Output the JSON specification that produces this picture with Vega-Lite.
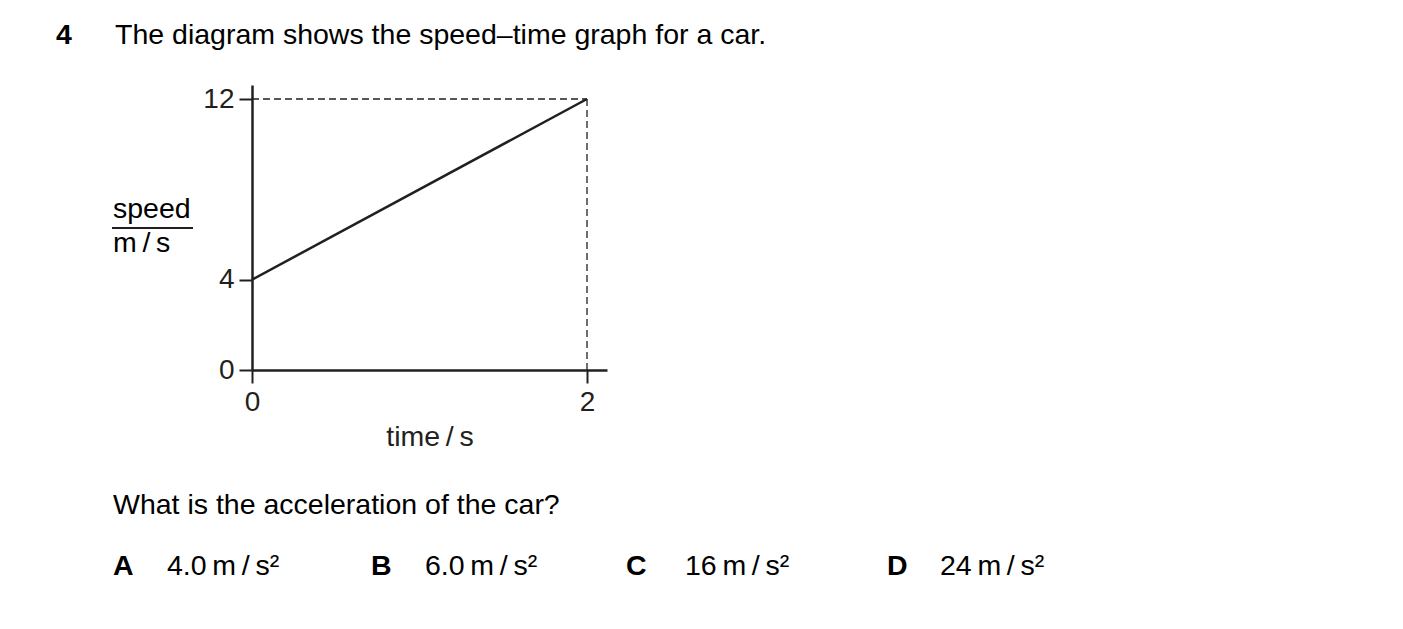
{
  "$schema": "https://vega.github.io/schema/vega-lite/v6.json",
  "autosize": {"type": "none"},
  "padding": {"left": 252, "top": 85, "right": 796, "bottom": 259},
  "width": 355,
  "height": 285,
  "background": "white",
  "config": {
    "view": {"stroke": null},
    "font": "Liberation Sans",
    "axis": {
      "domainColor": "#231f20",
      "domainWidth": 2.5,
      "tickColor": "#231f20",
      "tickWidth": 2,
      "tickSize": 13,
      "labelFont": "Liberation Sans",
      "labelFontSize": 28,
      "labelColor": "#231f20",
      "labelPadding": 5,
      "labelFlush": false,
      "grid": false,
      "titleFont": "Liberation Sans",
      "titleFontSize": 28.5,
      "titleFontWeight": "normal",
      "titleColor": "#231f20"
    }
  },
  "datasets": {
    "graph": [{"x": 0, "y": 4}, {"x": 2, "y": 12}],
    "guides": [
      {"x": 0, "y": 12, "x2": 2, "y2": 12},
      {"x": 2, "y": 0, "x2": 2, "y2": 12}
    ],
    "fraction": [{"x": -0.8358, "y": 6.2879, "x2": -0.3522}],
    "plain": [
      {"label": "The diagram shows the speed–time graph for a car.", "x": -0.8179, "y": 14.436},
      {"label": "speed", "x": -0.8299, "y": 6.7307},
      {"label": "m\u2009/\u2009s", "x": -0.8299, "y": 5.2252},
      {"label": "What is the acceleration of the car?", "x": -0.8299, "y": -6.3765},
      {"label": "4.0\u2009m\u2009/\u2009s²", "x": -0.5075, "y": -9.0776},
      {"label": "6.0\u2009m\u2009/\u2009s²", "x": 1.0328, "y": -9.0776},
      {"label": "16\u2009m\u2009/\u2009s²", "x": 2.5851, "y": -9.0776},
      {"label": "24\u2009m\u2009/\u2009s²", "x": 4.1075, "y": -9.0776}
    ],
    "bold": [
      {"label": "4", "x": -1.1701, "y": 14.436},
      {"label": "A", "x": -0.8299, "y": -9.0776},
      {"label": "B", "x": 0.7104, "y": -9.0776},
      {"label": "C", "x": 2.2328, "y": -9.0776},
      {"label": "D", "x": 3.791, "y": -9.0776}
    ]
  },
  "layer": [
    {
      "data": {"name": "graph"},
      "mark": {"type": "line", "color": "#231f20", "strokeWidth": 2.5},
      "encoding": {
        "x": {
          "field": "x", "type": "quantitative",
          "scale": {"domain": [0, 2.1194], "nice": false, "zero": false},
          "axis": {"values": [0, 2], "title": "time\u2009/\u2009s", "titlePadding": 6, "format": "d"}
        },
        "y": {
          "field": "y", "type": "quantitative",
          "scale": {"domain": [0, 12.62], "nice": false, "zero": false},
          "axis": {"values": [0, 4, 12], "title": null, "format": "d"}
        }
      }
    },
    {
      "data": {"name": "guides"},
      "mark": {"type": "rule", "color": "#231f20", "strokeWidth": 1.3, "strokeDash": [7, 4]},
      "encoding": {
        "x": {"field": "x", "type": "quantitative"},
        "y": {"field": "y", "type": "quantitative"},
        "x2": {"field": "x2"},
        "y2": {"field": "y2"}
      }
    },
    {
      "data": {"name": "fraction"},
      "mark": {"type": "rule", "color": "#231f20", "strokeWidth": 2},
      "encoding": {
        "x": {"field": "x", "type": "quantitative"},
        "x2": {"field": "x2"},
        "y": {"field": "y", "type": "quantitative"}
      }
    },
    {
      "data": {"name": "plain"},
      "mark": {"type": "text", "align": "left", "baseline": "alphabetic", "fontSize": 28.5, "color": "#000000", "font": "Liberation Sans"},
      "encoding": {
        "x": {"field": "x", "type": "quantitative"},
        "y": {"field": "y", "type": "quantitative"},
        "text": {"field": "label"}
      }
    },
    {
      "data": {"name": "bold"},
      "mark": {"type": "text", "align": "left", "baseline": "alphabetic", "fontSize": 28.5, "fontWeight": "bold", "color": "#000000", "font": "Liberation Sans"},
      "encoding": {
        "x": {"field": "x", "type": "quantitative"},
        "y": {"field": "y", "type": "quantitative"},
        "text": {"field": "label"}
      }
    }
  ]
}
